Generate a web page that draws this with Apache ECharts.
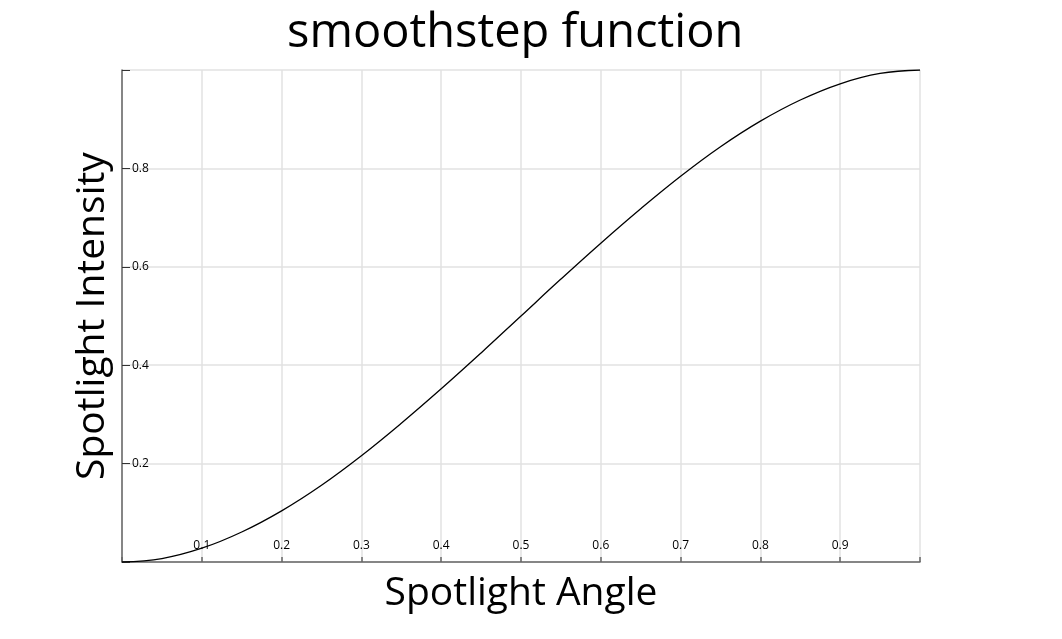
<!DOCTYPE html>
<html><head><meta charset="utf-8">
<script src="https://cdn.jsdelivr.net/npm/echarts@6/dist/echarts.min.js"></script>
<style>html,body{margin:0;padding:0;background:#fff}#c{width:1062px;height:639px}</style>
</head><body><div id="c"></div>
<script>
const titleText = 'smoothstep function';
const xName = 'Spotlight Angle';
const yName = 'Spotlight Intensity';
const xValues = [0,0.05,0.1,0.15,0.2,0.25,0.3,0.35,0.4,0.45,0.5,0.55,0.6,0.65,0.7,0.75,0.8,0.85,0.9,0.95,1];
const yValues = [0,0.007,0.028,0.061,0.104,0.156,0.216,0.282,0.352,0.425,0.5,0.575,0.648,0.718,0.784,0.844,0.896,0.939,0.972,0.993,1];
const data = xValues.map((x,i)=>[x,yValues[i]]);
const chart = echarts.init(document.getElementById('c'));
const fam = '"Open Sans", sans-serif';
const hideEnds = v => (Math.abs(v) < 1e-9 || Math.abs(v-1) < 1e-9) ? '' : String(+v.toFixed(1));
chart.setOption({
  animation:false,
  title:{text:titleText,left:282,top:5,textStyle:{fontFamily:fam,fontSize:47,fontWeight:'normal',color:'#000'}},
  grid:{left:122,right:142,top:70,bottom:77,show:false},
  xAxis:{type:'value',min:0,max:1,interval:0.1,name:xName,nameLocation:'middle',nameGap:12,
    nameTextStyle:{fontFamily:fam,fontSize:39,color:'#000',verticalAlign:'top'},
    axisLine:{show:true,lineStyle:{color:'#666',width:1.5}},
    axisTick:{show:true,inside:true,length:5,lineStyle:{color:'#666',width:1.5}},
    axisLabel:{inside:true,margin:10,fontFamily:fam,fontSize:12,color:'#000',formatter:hideEnds},
    splitLine:{show:true,lineStyle:{color:'#e2e2e2',width:1.5}}},
  yAxis:{type:'value',min:0,max:1,interval:0.2,name:yName,nameLocation:'middle',nameGap:10,
    nameTextStyle:{fontFamily:fam,fontSize:39,color:'#000',verticalAlign:'bottom'},
    axisLine:{show:true,lineStyle:{color:'#666',width:1.5}},
    axisTick:{show:true,inside:true,length:8,lineStyle:{color:'#333',width:1}},
    axisLabel:{inside:true,margin:10,fontFamily:fam,fontSize:12,color:'#000',formatter:hideEnds},
    splitLine:{show:true,lineStyle:{color:'#e2e2e2',width:1.5}}},
  series:[{type:'line',data:data,smooth:0.4,showSymbol:false,lineStyle:{color:'#000',width:1.3}}]
});
</script></body></html>
